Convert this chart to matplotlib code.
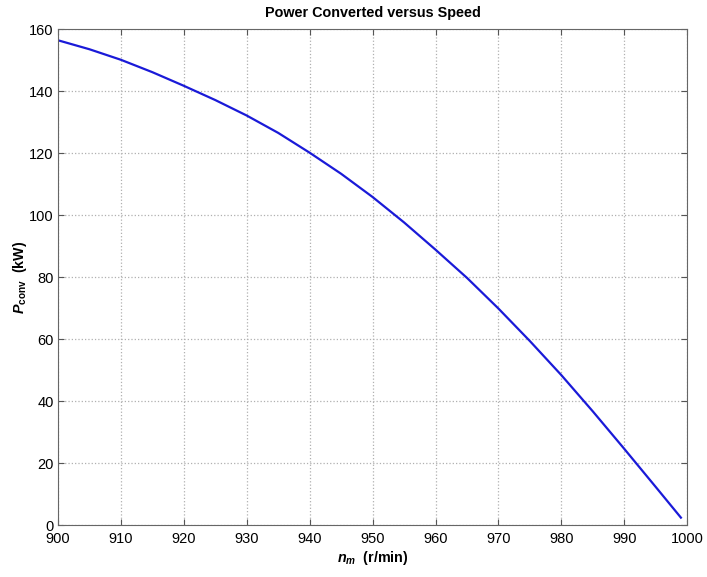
import numpy as np
import matplotlib
matplotlib.use("Agg")
import matplotlib.pyplot as plt

# speed (r/min) and converted power (kW)
speed = [900, 905, 910, 915, 920, 925, 930, 935, 940, 945, 950,
         955, 960, 965, 970, 975, 980, 985, 990, 995, 999]
p_conv = [156.5, 153.6, 150.2, 146.2, 141.8, 137.2, 132.2, 126.6, 120.2, 113.4, 105.9,
          97.7, 88.9, 79.8, 69.9, 59.4, 48.4, 36.7, 24.6, 12.3, 2.4]
x_ticks = np.arange(900, 1001, 10)
y_ticks = np.arange(0, 161, 20)

plt.rcParams['font.family'] = ['Liberation Sans', 'DejaVu Sans']
plt.rcParams['mathtext.fontset'] = 'custom'
plt.rcParams['mathtext.rm'] = 'Liberation Sans:bold'
plt.rcParams['mathtext.it'] = 'Liberation Sans:bold:italic'
plt.rcParams['mathtext.bf'] = 'Liberation Sans:bold'

fig = plt.figure(figsize=(7.07, 5.77), dpi=100)
ax = fig.add_axes([0.082, 0.090, 0.890, 0.859])

ax.plot(speed, p_conv, color='#1a1ad8', lw=1.6)

ax.set_xlim(900, 1000)
ax.set_ylim(0, 160)
ax.set_xticks(x_ticks)
ax.set_yticks(y_ticks)
ax.grid(True, color='#b0b0b0', linestyle=':', linewidth=0.9)
ax.tick_params(direction='in', top=True, right=True, labelsize=10.5, length=4,
               color='#555555')
ax.tick_params(axis='x', pad=5)
ax.tick_params(axis='y', pad=3)
for s in ax.spines.values():
    s.set_color('#666666')

ax.set_title('Power Converted versus Speed', fontsize=10.4, fontweight='bold', pad=9)
ax.set_xlabel(r'$n_m$  (r/min)', fontsize=10.3, fontweight='bold', labelpad=2)
ax.set_ylabel(r'$P_{\mathrm{conv}}$  (kW)', fontsize=10.3, fontweight='bold', labelpad=0)

fig.savefig('out.png', dpi=100)
